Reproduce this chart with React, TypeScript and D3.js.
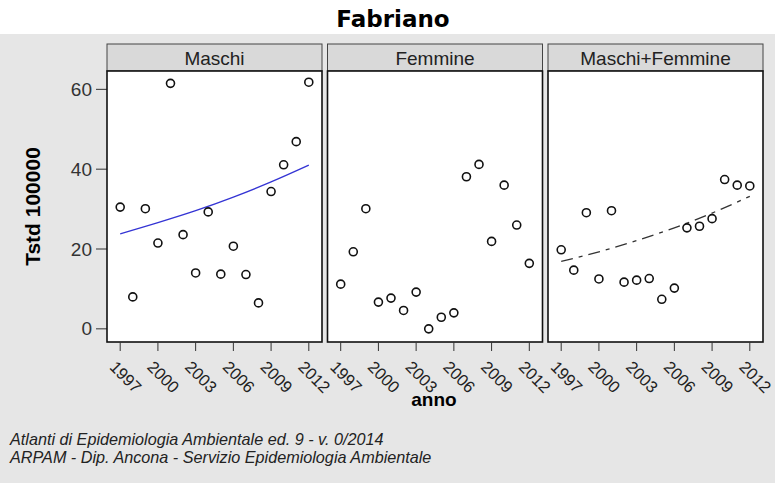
import * as d3 from "d3";
import { useEffect, useRef } from "react";

const years = [1997, 1998, 1999, 2000, 2001, 2002, 2003, 2004, 2005, 2006, 2007, 2008, 2009, 2010, 2011, 2012];
const maschi = [30.5, 8.0, 30.1, 21.5, 61.5, 23.6, 14.0, 29.3, 13.7, 20.7, 13.6, 6.5, 34.4, 41.1, 46.9, 61.8];
const femmine = [11.2, 19.3, 30.1, 6.7, 7.7, 4.6, 9.2, 0.0, 2.9, 4.0, 38.1, 41.2, 21.9, 36.0, 26.0, 16.4];
const totale = [19.8, 14.7, 29.1, 12.5, 29.6, 11.7, 12.2, 12.6, 7.4, 10.2, 25.3, 25.7, 27.6, 37.4, 36.0, 35.8];

// trend curves
const trendYears = [1997, 2000, 2003, 2006, 2009, 2012];
const trendMaschi = [23.8, 26.6, 29.6, 33.0, 36.8, 41.0];
const trendTotale = [16.9, 19.3, 22.1, 25.3, 29.0, 33.2];

const panelNames = ["Maschi", "Femmine", "Maschi+Femmine"];
const xTicks = [1997, 2000, 2003, 2006, 2009, 2012];
const yTicks = [0, 20, 40, 60];

const W = 775;
const H = 483;

export default function App() {
  const ref = useRef<SVGSVGElement | null>(null);

  useEffect(() => {
    if (!ref.current) return;
    const svg = d3.select(ref.current);
    svg.selectAll("*").remove();

    const font = "'Liberation Sans', Arial, sans-serif";
    const panelW = 215;
    const gap = 5.5;
    const left0 = 107;
    const stripTop = 44;
    const top = 71;
    const bottom = 342;

    svg.append("rect").attr("width", W).attr("height", H).attr("fill", "#fff");
    svg.append("rect").attr("x", 0).attr("y", 34).attr("width", W).attr("height", H - 34).attr("fill", "#e6e6e6");

    svg.append("text")
      .attr("x", 393).attr("y", 27)
      .attr("text-anchor", "middle")
      .style("font-family", "'DejaVu Sans', Verdana, sans-serif")
      .style("font-weight", "bold")
      .style("font-size", "23px")
      .text("Fabriano");

    const y = d3.scaleLinear().domain([-3.3, 64.6]).range([bottom, top]);

    // y axis (left of first panel)
    const ya = svg.append("g");
    yTicks.forEach((t) => {
      ya.append("line")
        .attr("x1", left0 - 11).attr("x2", left0)
        .attr("y1", y(t)).attr("y2", y(t))
        .attr("stroke", "#333").attr("stroke-width", 1);
      ya.append("text")
        .attr("x", left0 - 15).attr("y", y(t))
        .attr("dy", "0.35em")
        .attr("text-anchor", "end")
        .attr("fill", "#333")
        .style("font-family", font)
        .style("font-size", "19px")
        .text(t);
    });

    const series = [maschi, femmine, totale];
    const trends: (number[] | null)[] = [trendMaschi, null, trendTotale];

    panelNames.forEach((name, i) => {
      const px = left0 + i * (panelW + gap);
      const x = d3.scaleLinear().domain([1995.95, 2013.05]).range([px, px + panelW]);

      // strip
      svg.append("rect")
        .attr("x", px).attr("y", stripTop)
        .attr("width", panelW).attr("height", top - stripTop)
        .attr("fill", "#d9d9d9").attr("stroke", "#444").attr("stroke-width", 1);
      svg.append("text")
        .attr("x", px + panelW / 2).attr("y", 65)
        .attr("text-anchor", "middle")
        .attr("fill", "#222")
        .style("font-family", font)
        .style("font-size", "19px")
        .text(name);

      svg.append("rect")
        .attr("x", px).attr("y", top)
        .attr("width", panelW).attr("height", bottom - top)
        .attr("fill", "#fff").attr("stroke", "#111").attr("stroke-width", 1.6);

      // x ticks
      xTicks.forEach((t) => {
        svg.append("line")
          .attr("x1", x(t)).attr("x2", x(t))
          .attr("y1", bottom).attr("y2", bottom + 9)
          .attr("stroke", "#333");
        svg.append("text")
          .attr("transform", `translate(${x(t) + 5.5},${bottom + 35}) rotate(45)`)
          .attr("text-anchor", "middle")
          .attr("dy", "0.35em")
          .attr("fill", "#222")
          .style("font-family", font)
          .style("font-size", "16.5px")
          .text(t);
      });

      const tr = trends[i];
      if (tr) {
        const line = d3.line<number>()
          .x((_, j) => x(trendYears[j]))
          .y((d) => y(d))
          .curve(d3.curveMonotoneX);
        svg.append("path")
          .attr("d", line(tr))
          .attr("fill", "none")
          .attr("stroke", i === 0 ? "#3434d4" : "#333")
          .attr("stroke-width", 1.3)
          .attr("stroke-dasharray", i === 0 ? null : "12 6 4 6");
      }

      svg.append("g")
        .selectAll("circle")
        .data(series[i])
        .enter()
        .append("circle")
        .attr("cx", (_, j) => x(years[j]))
        .attr("cy", (d) => y(d))
        .attr("r", 4)
        .attr("fill", "none")
        .attr("stroke", "#111")
        .attr("stroke-width", 1.6);
    });

    svg.append("text")
      .attr("transform", `translate(33,${(top + bottom) / 2}) rotate(-90)`)
      .attr("text-anchor", "middle")
      .attr("dy", "0.35em")
      .style("font-family", font)
      .style("font-weight", "bold")
      .style("font-size", "21px")
      .text("Tstd 100000");

    svg.append("text")
      .attr("x", 434).attr("y", 406)
      .attr("text-anchor", "middle")
      .style("font-family", font)
      .style("font-weight", "bold")
      .style("font-size", "19px")
      .text("anno");

    const foot = [
      "Atlanti di Epidemiologia Ambientale ed. 9 - v. 0/2014",
      "ARPAM - Dip. Ancona - Servizio Epidemiologia Ambientale",
    ];
    foot.forEach((s, k) => {
      svg.append("text")
        .attr("x", 10).attr("y", 445 + k * 17.5)
        .attr("fill", "#222")
        .style("font-family", font)
        .style("font-style", "italic")
        .style("font-size", "16.2px")
        .text(s);
    });
  }, []);

  return (
    <svg
      ref={ref}
      width={W}
      height={H}
      style={{ position: "absolute", left: 0, top: 0 }}
    />
  );
}
